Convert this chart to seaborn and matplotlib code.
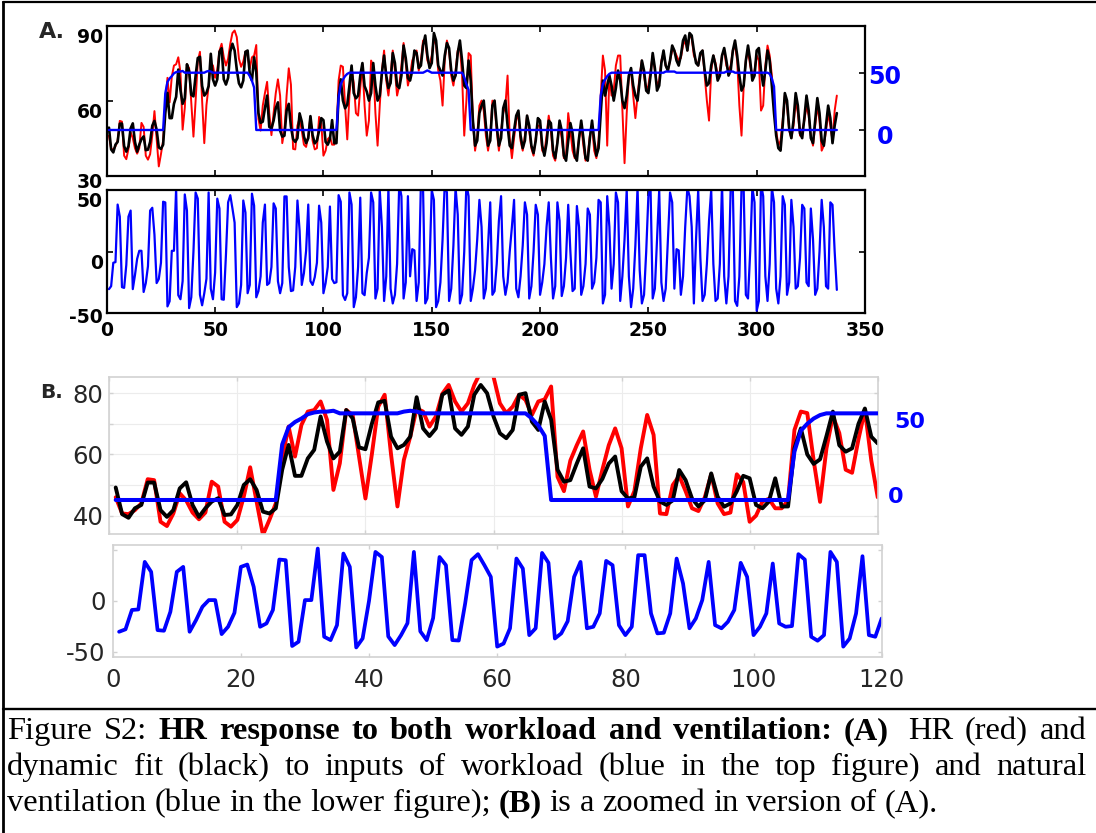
import numpy as np
import matplotlib
matplotlib.use("Agg")
import matplotlib.pyplot as plt
import matplotlib.transforms as mtransforms
from matplotlib.lines import Line2D
import seaborn as sns

# ---------------------------------------------------------------------------
# Recorded series, one sample per breath-cycle step (samples 1..337)
# ---------------------------------------------------------------------------
hr_measured = [
    46, 40.7, 40.5, 41.8, 44, 51.9, 51.6, 38, 36.6, 40.7,
    47.3, 45, 41, 38.8, 41, 51.1, 49.5, 38, 36.4, 38.6,
    46.2, 55.8, 44.6, 33.7, 38.6, 44, 58.7, 69.1, 59.3, 69.6,
    74, 74.5, 77.3, 71.3, 48.4, 57.1, 74.5, 72.9, 59.3, 45.6,
    60, 75.6, 79.5, 60, 43, 58.2, 65.8, 75, 74, 69.1,
    72.4, 79.8, 82.7, 77.3, 74, 76.7, 82.7, 87, 88, 85.4,
    76.7, 73.5, 75.6, 79.5, 77.8, 72.9, 77.3, 78, 82.2, 52.7,
    48, 58, 63, 67.5, 55, 46.2, 55, 63, 68.5, 62,
    43, 48, 62, 72.9, 66.4, 40.7, 40.5, 50, 53, 48,
    42.4, 41.5, 46, 53.5, 44, 40.5, 41, 53.5, 51, 38,
    40, 44.6, 45.5, 42.4, 42.4, 45, 68, 74, 73.5, 58,
    44.5, 62, 72.5, 67, 55, 54, 65, 74.5, 58, 46,
    52, 76, 74, 55, 42, 58, 72, 80, 68, 62,
    70, 80, 72, 62, 66, 74, 83, 75, 66, 70,
    76, 78, 80, 72, 76, 84, 84, 76, 74, 78,
    85, 82, 72, 68, 58, 76, 84, 80, 70, 66,
    72, 80, 82, 70, 46, 60, 79, 78, 52, 40,
    46, 58, 60, 56, 46, 40, 46, 60, 58, 48,
    40, 48, 55, 58, 70, 45, 37, 45, 52, 55,
    44, 40, 46, 54, 48, 41, 38, 45, 50, 50,
    40, 39, 46, 54, 48, 38, 36, 44, 50, 45,
    37, 38, 55, 48, 40, 37, 38, 45, 50, 42,
    36, 38, 46, 50, 40, 37, 44, 62, 78, 72,
    42, 70, 62, 64, 74, 78, 78, 56, 35, 55,
    70, 72, 62, 53, 62, 70, 76, 70, 64, 66,
    72, 78, 72, 66, 68, 76, 79, 74, 72, 76,
    80, 80, 78, 76, 77, 82, 84, 80, 86, 85,
    78, 76, 74, 78, 80, 70, 60, 52, 72, 78,
    75, 70, 72, 78, 80, 74, 72, 74, 80, 82,
    76, 58, 46, 66, 76, 80, 74, 70, 72, 78,
    76, 56, 58, 74, 82, 78, 70, 58, 48, 42,
    44, 52, 62, 58, 48, 45, 50, 60, 55, 46,
    48, 52, 58, 54, 46, 42, 50, 58, 52, 40,
    42, 48, 55, 50, 44, 56, 62,
]

hr_fit = [
    49.2, 40.5, 39.3, 42.4, 43.5, 50.8, 50.8, 41.8, 39.6, 41.8,
    48.9, 50.9, 43.5, 39.6, 42.4, 44.6, 45.7, 40.2, 40.4, 43.5,
    50, 51.9, 48.4, 41.3, 40.7, 42.4, 55, 63.1, 53, 53,
    58.7, 61.5, 72.4, 64.2, 58.7, 60.9, 74.5, 71.8, 62.3, 61.7,
    70, 77, 77.5, 65.8, 62, 63.1, 65.8, 78.7, 68.5, 66,
    68.5, 79.5, 80.9, 68.5, 66.4, 69.1, 79.5, 82.7, 80, 72.4,
    66.9, 65.3, 68, 79.5, 80, 70.7, 68, 77.3, 71.3, 55,
    51.1, 51.6, 57, 62, 49.5, 48.9, 52, 57, 59.3, 48,
    45.6, 46, 56, 58.7, 49.5, 44.6, 43.5, 45, 54.9, 51.6,
    45.6, 43, 45, 53.8, 46.2, 42.9, 44, 48, 53, 52.2,
    43.5, 42.4, 44.6, 52.2, 43, 43, 62, 68.5, 60, 56.9,
    58.4, 66, 74, 63, 60.9, 62, 70, 75, 65.8, 63.6,
    60, 63, 75, 66, 60, 62, 71, 78, 70, 65,
    67, 79, 75, 66, 65, 70, 82, 77, 69, 68,
    72, 80, 79, 73, 74, 82, 86, 78, 73, 75,
    87, 84, 74, 72, 70, 78, 83, 81, 72, 68,
    70, 79, 84, 76, 66, 65, 76, 68, 52, 42,
    44, 55, 58, 60, 50, 42, 44, 58, 60, 50,
    42, 45, 57, 60, 50, 42, 41, 48, 54, 56,
    46, 41, 44, 54, 50, 42, 39, 44, 53, 52,
    42, 38, 43, 52, 51, 40, 37, 43, 52, 48,
    38, 36, 44, 51, 47, 38, 36, 45, 52, 45,
    37, 36, 45, 52, 44, 38, 41, 55, 68, 62,
    66, 70, 66, 60, 65, 72, 68, 60, 57, 62,
    70, 73, 66, 62, 60, 68, 76, 72, 64, 63,
    70, 79, 73, 64, 66, 75, 80, 74, 72, 76,
    82, 80, 76, 74, 78, 84, 86, 80, 87, 86,
    80, 75, 74, 79, 80, 72, 66, 67, 74, 78,
    74, 68, 70, 78, 81, 76, 70, 72, 80, 84,
    78, 70, 64, 66, 76, 82, 76, 68, 70, 80,
    81, 72, 66, 72, 80, 76, 66, 55, 46, 41,
    40, 50, 63, 60, 49, 45, 52, 63, 58, 47,
    45, 53, 62, 56, 45, 43, 52, 61, 55, 44,
    42, 50, 58, 53, 43, 50, 55,
]

workload = [
    0, 0, 0, 0, 0, 0, 0, 0, 0, 0, 0, 0, 0, 0, 0, 0, 0, 0, 0, 0,
    0, 0, 0, 0, 0, 0, 32, 42, 45, 47, 49.5, 50.5, 51, 51, 51.5, 50, 50, 50, 50, 50,
    50, 50, 50, 50, 50, 51, 51.5, 51, 50, 50, 50, 50, 50, 50, 50, 50, 50, 50, 50, 50,
    50, 50, 50, 50, 50, 47, 43, 37, 0, 0, 0, 0, 0, 0, 0, 0, 0, 0, 0, 0,
    0, 0, 0, 0, 0, 0, 0, 0, 0, 0, 0, 0, 0, 0, 0, 0, 0, 0, 0, 0,
    0, 0, 0, 0, 0, 0, 28, 40, 44, 47, 49, 50, 50, 50, 50, 50, 50, 50, 50, 50,
    50, 50, 50, 50, 50, 50, 50, 50, 50, 50, 50, 50, 50, 50, 50, 50, 50, 50, 50, 50,
    50, 50, 50, 50, 50, 50, 51, 52, 51, 50, 50, 50, 50, 50, 50, 50, 50, 50, 50, 50,
    50, 50, 50, 50, 46, 40, 35, 0, 0, 0, 0, 0, 0, 0, 0, 0, 0, 0, 0, 0,
    0, 0, 0, 0, 0, 0, 0, 0, 0, 0, 0, 0, 0, 0, 0, 0, 0, 0, 0, 0,
    0, 0, 0, 0, 0, 0, 0, 0, 0, 0, 0, 0, 0, 0, 0, 0, 0, 0, 0, 0,
    0, 0, 0, 0, 0, 0, 0, 30, 40, 44, 47, 49, 50, 50, 50, 50, 50, 50, 50, 50,
    50, 50, 50, 50, 50, 50, 50, 50, 50, 50, 50, 50, 50, 50, 50, 50, 50, 51, 51, 51,
    51, 51, 50, 50, 50, 50, 50, 50, 50, 50, 50, 50, 50, 50, 50, 50, 50, 50, 50, 50,
    50, 50, 50, 50, 50, 51, 51, 51, 51, 50, 50, 50, 50, 50, 50, 50, 50, 50, 50, 50,
    50, 50, 50, 50, 50, 49, 45, 38, 0, 0, 0, 0, 0, 0, 0, 0, 0, 0, 0, 0,
    0, 0, 0, 0, 0, 0, 0, 0, 0, 0, 0, 0, 0, 0, 0, 0, 0,
]

ventilation = [
    -30.4, -28, -9, -8.5, 38.2, 28.4, -28.8, -29.4, -10.8, 28.4,
    33.3, -30.4, -19, -5.9, 0.7, 0.7, -32.7, -25.5, -11.8, 33.3,
    35.6, 13.7, -25.5, -22.2, -9, 40.5, 39.9, -44.4, -40.2, 0.7,
    0.7, 51.3, -35.3, -38.6, -23.9, 46.4, 33.3, -45.8, -37, 0,
    48, 43, -35, -43.5, -33.7, -22, 48, -30, -38.6, -17,
    43, 35, -38.6, -39, -2.6, 40, 45.8, 35, 23.5, -45,
    -42, -27, 41.5, 31.7, -33.7, -27, 47, 37.3, -37, -32,
    -20, 23.5, 38.2, -27, -25.5, -12.4, 39.2, 35, -24, -33.7,
    -25.5, 44.8, 44.8, -12.4, -32, -31.4, -12.4, 41.5, 17, -27,
    -17.3, 0.7, 38.2, -23.9, -27, -20.6, -9, 37.3, 23.5, -33.7,
    -25.5, -12.4, 36.6, -22.2, -25.5, -24.8, 45.8, 40.5, -35.3, -39.2,
    -33.7, 48, 38.2, -45, -37, -12.4, 43.8, -33.7, -35.3, -17.3,
    -5, 48, 40, -38, -30, 50, 20, -40, -20, 52,
    -30, -42, -35, -10, 55, 45, -38, -25, 45, -20,
    2, 1, -40, -25, 56, 50, -42, -38, -10, 50,
    42, -45, -40, -25, 10, 55, 48, -40, -30, 5,
    52, 30, -42, -35, 0, 55, 45, -40, -30, -15,
    10, 42, 20, -38, -30, 5, 40, -35, -32, -10,
    25, 45, -20, -35, -25, 0, 20, 42, -30, -37,
    -20, 5, 40, 30, -38, -28, 0, 38, 30, -35,
    -25, -10, 20, 40, -5, -38, -28, 40, 25, -36,
    -28, -5, 38, 0, -32, -30, 37, 20, -35, -28,
    -10, 35, 30, -30, -25, -5, 42, 40, -42, -35,
    45, 20, -30, -10, 48, 40, -40, -20, 10, 50,
    -20, -45, -30, 5, 52, -15, -42, -35, 0, 45,
    52, -38, -30, 10, 50, -25, -40, -30, 10, 48,
    40, -30, 2, 1, -35, -20, 20, 52, 45, 20,
    -42, 10, 50, -5, -40, -35, -10, 25, 50, -10,
    -40, -38, -10, 55, -20, -42, -20, 52, 50, -40,
    -44, -20, 52, 50, -35, -38, 0, 52, 40, -48,
    -40, 55, 45, -20, -40, -10, 52, 40, -30, -42,
    -20, 45, 38, -35, -25, 42, 20, -30, -28, -5,
    38, 35, -25, -28, 35, 10, -35, -30, 0, 42,
    20, -28, -30, 40, 38, 0, -31,
]

zoom_len = 120
hr_ticks_A = [30, 60, 90]
vent_ticks_A = [-50, 0, 50]
time_ticks_A = [0, 50, 100, 150, 200, 250, 300, 350]
hr_ticks_B = [40, 50, 60, 70, 80]
hr_ticklabels_B = ["40", "", "60", "", "80"]
vent_ticks_B = [-50, 0, 50]
vent_ticklabels_B = ["-50", "0", ""]
time_ticks_B = [0, 20, 40, 60, 80, 100, 120]
workload_labels = ["50", "0"]

# ---------------------------------------------------------------------------
sns.set_style("white")
plt.rcParams["font.family"] = ["DejaVu Sans"]
plt.rcParams["axes.unicode_minus"] = False

W, H = 1096, 833
fig = plt.figure(figsize=(W / 100, H / 100), dpi=100)


def box(x0, y0, x1, y1):
    return [x0 / W, 1 - y1 / H, (x1 - x0) / W, (y1 - y0) / H]


t_all = np.arange(1, len(hr_measured) + 1)
t_zoom = t_all[:zoom_len]

RED, BLACK, BLUE = "#ff0000", "#000000", "#0000ff"

axA = fig.add_axes(box(106.8, 25.5, 865.0, 175.7))
axAw = axA.twinx()
axAv = fig.add_axes(box(106.8, 190.0, 865.0, 313.3))
axB = fig.add_axes(box(109.3, 377.3, 877.7, 534.3))
axBw = axB.twinx()
axBv = fig.add_axes(box(112.7, 545.0, 881.7, 656.7))


def trace(ax, x, y, color, lw):
    sns.lineplot(x=x, y=y, ax=ax, color=color, linewidth=lw,
                 estimator=None, sort=False)
    ax.set_xlabel("")
    ax.set_ylabel("")


# ---- panel A: full record --------------------------------------------------
trace(axA, t_all, hr_measured, RED, 1.4)
trace(axA, t_all, hr_fit, BLACK, 1.9)
trace(axAw, t_all, workload, BLUE, 1.7)
trace(axAv, t_all, ventilation, BLUE, 1.6)

for ax in (axA, axAv):
    ax.set_xlim(0, 350)
    ax.set_xticks(time_ticks_A)
    for sp in ax.spines.values():
        sp.set_color("black")
        sp.set_linewidth(1.6)
    ax.tick_params(direction="in", length=4, width=1.2, colors="black",
                   top=True, bottom=True, left=True, labelsize=13.5, pad=3)

axA.set_ylim(30, 90)
axA.set_yticks(hr_ticks_A)
axA.set_yticklabels([str(v) for v in hr_ticks_A])
axA.tick_params(labelbottom=False, right=False)

axAw.set_xlim(0, 350)
axAw.set_ylim(-39.9, 91.2)
axAw.set_yticks([50, 0])
axAw.set_yticklabels(["", ""])
axAw.tick_params(direction="in", length=4, width=1.2, colors="black",
                 right=True, left=False)
for sp in axAw.spines.values():
    sp.set_visible(False)

axAv.set_ylim(-50, 50)
axAv.set_yticks(vent_ticks_A)
axAv.set_yticklabels([str(v) for v in vent_ticks_A])
axAv.set_xticklabels([str(v) for v in time_ticks_A])
axAv.tick_params(right=True, pad=5.5, axis="x")
axAv.tick_params(right=True, axis="y")

for ax in (axA, axAv):
    for lbl in ax.get_xticklabels() + ax.get_yticklabels():
        lbl.set_fontweight("bold")

# ---- panel B: first 120 samples -------------------------------------------
trace(axB, t_zoom, hr_measured[:zoom_len], RED, 2.8)
trace(axB, t_zoom, hr_fit[:zoom_len], BLACK, 2.8)
trace(axBw, t_zoom, workload[:zoom_len], BLUE, 2.9)
trace(axBv, t_zoom, ventilation[:zoom_len], BLUE, 2.7)

LIGHT = "#d2d2d2"
for ax in (axB, axBv):
    ax.set_xlim(0, 120)
    ax.set_xticks(time_ticks_B)
    for sp in ax.spines.values():
        sp.set_color(LIGHT)
        sp.set_linewidth(1.2)
    ax.tick_params(direction="in", length=3, width=1.0, color=LIGHT,
                   labelcolor="#262626", top=True, bottom=True, left=True,
                   right=True, labelsize=17.5)

axB.set_ylim(33.9, 85.2)
axB.set_yticks(hr_ticks_B)
axB.set_yticklabels(hr_ticklabels_B)
axB.tick_params(labelbottom=False, pad=4)
axB.grid(True, color="#ececec", linewidth=0.8)
axB.set_axisbelow(True)

axBw.set_xlim(0, 120)
axBw.set_ylim(-19.8, 70.8)
axBw.set_yticks([])
for sp in axBw.spines.values():
    sp.set_visible(False)

axBv.set_ylim(-54.9, 54.8)
axBv.set_yticks(vent_ticks_B)
axBv.set_yticklabels(vent_ticklabels_B)
axBv.set_xticklabels([str(v) for v in time_ticks_B])
axBv.tick_params(axis="x", pad=8)
axBv.tick_params(axis="y", pad=5)

# workload scale labels (right side)
wl_style = dict(color=BLUE, fontweight="bold", ha="center", va="center")
fig.text(884.7 / W, 1 - 77.5 / H, workload_labels[0], fontsize=17, **wl_style)
fig.text(884.7 / W, 1 - 137.0 / H, workload_labels[1], fontsize=17, **wl_style)
fig.text(909.5 / W, 1 - 422.0 / H, workload_labels[0], fontsize=16, **wl_style)
fig.text(895.7 / W, 1 - 496.7 / H, workload_labels[1], fontsize=16, **wl_style)

# panel letters
fig.text(51.4 / W, 1 - 32.0 / H, "A.", fontsize=16, fontweight="bold",
         ha="center", va="center")
fig.text(51.0 / W, 1 - 392.0 / H, "B.", fontsize=14.5, fontweight="bold",
         ha="center", va="center")

# frame around the figure and the caption separator
frame_kw = dict(color="black", transform=fig.transFigure)
fig.add_artist(Line2D([3 / W, 3 / W], [0, 1 - 2 / H], linewidth=2.0, **frame_kw))
fig.add_artist(Line2D([3 / W, 1], [1 - 2 / H, 1 - 2 / H], linewidth=1.6, **frame_kw))
fig.add_artist(Line2D([3 / W, 1], [1 - 709.3 / H, 1 - 709.3 / H], linewidth=1.7, **frame_kw))

# ---- caption --------------------------------------------------------------
serif = ["Liberation Serif", "DejaVu Serif"]
cap_fs = 23.4
renderer = fig.canvas.get_renderer()


def measure(s, weight):
    t = fig.text(0, 0, s, fontsize=cap_fs, family=serif, fontweight=weight)
    w = t.get_window_extent(renderer=renderer).width
    t.remove()
    return w


space_w = measure("a a", "normal") - measure("aa", "normal")


def put(x, y, s, weight):
    fig.text(x / W, 1 - y / H, s, fontsize=cap_fs, family=serif,
             fontweight=weight, ha="left", va="baseline", color="black")


def justified(tokens, y, x0=7.0, x1=1086.5, extra=None):
    extra = extra or {}
    widths = [measure(s, wt) for s, wt in tokens]
    gap = ((x1 - x0) - sum(widths) - sum(extra.values())) / (len(tokens) - 1)
    x = x0
    for i, (s, wt) in enumerate(tokens):
        put(x, y, s, wt)
        x += widths[i] + gap + extra.get(i, 0.0)


def natural(tokens, y, x0=7.0):
    x = x0
    for s, wt in tokens:
        put(x, y, s, wt)
        x += measure(s, wt) + space_w
    return x - space_w


line1 = [("Figure", "normal"), ("S2:", "normal"), ("HR", "bold"),
         ("response", "bold"), ("to", "bold"), ("both", "bold"),
         ("workload", "bold"), ("and", "bold"), ("ventilation:", "bold"),
         ("(A)", "bold"), ("HR", "normal"), ("(red)", "normal"),
         ("and", "normal")]
line2 = [(w, "normal") for w in
         "dynamic fit (black) to inputs of workload (blue in the top figure) and natural".split()]
line3 = [(w, "normal") for w in "ventilation (blue in the lower figure);".split()]
line3 += [("(B)", "bold")]
line3 += [(w, "normal") for w in "is a zoomed in version of (A).".split()]

justified(line1, 739.0, extra={9: space_w})
justified(line2, 775.0)
natural(line3, 811.0)

# ---- nudge the bold left-hand labels of panel A below their ticks ----------
shift_A = {"90": 10, "60": 10, "30": 5}
shift_Av = {"50": 10, "0": 10, "-50": 2}
for ax, shifts in ((axA, shift_A), (axAv, shift_Av)):
    for lbl in ax.get_yticklabels():
        dy = shifts.get(lbl.get_text(), 0)
        off = mtransforms.ScaledTranslation(0, -dy / 100, fig.dpi_scale_trans)
        lbl.set_transform(lbl.get_transform() + off)

fig.savefig("out.png", dpi=100)
